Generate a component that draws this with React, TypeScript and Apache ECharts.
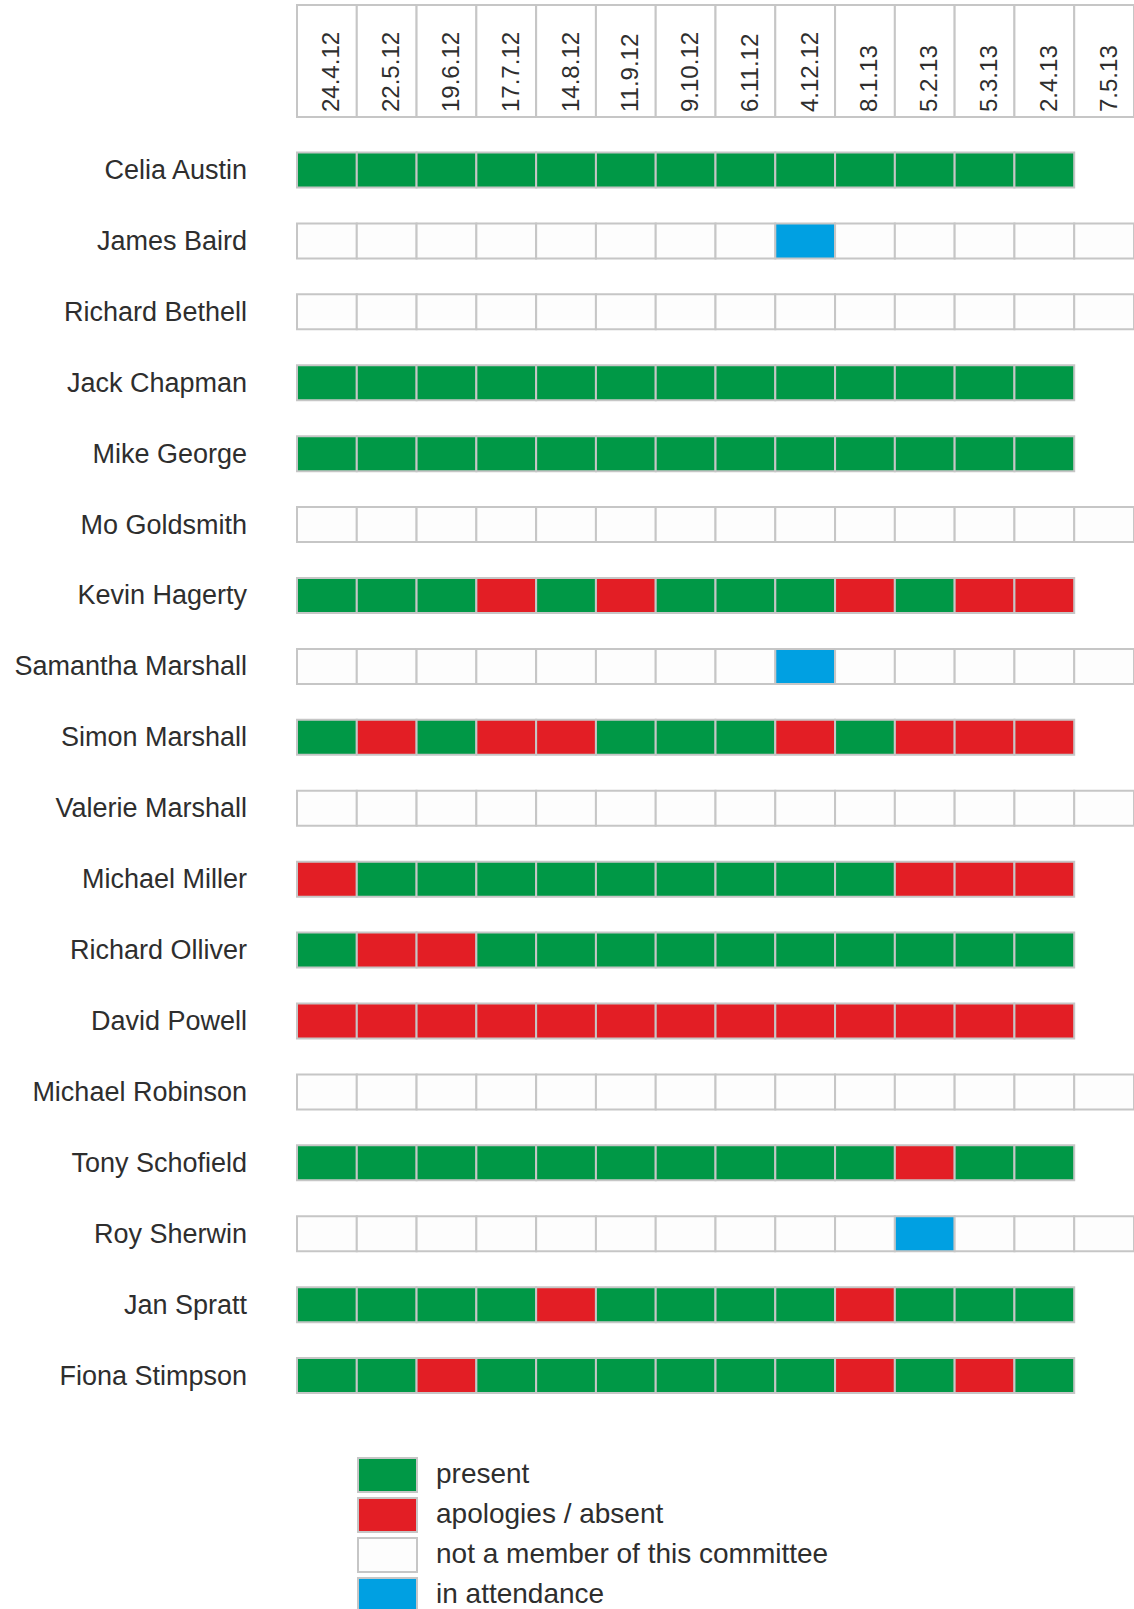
import React, { useEffect, useRef } from "react";
import * as echarts from "echarts";

const dates = ["24.4.12", "22.5.12", "19.6.12", "17.7.12", "14.8.12", "11.9.12", "9.10.12", "6.11.12", "4.12.12", "8.1.13", "5.2.13", "5.3.13", "2.4.13", "7.5.13"];

const names = [
  "Celia Austin", "James Baird", "Richard Bethell", "Jack Chapman", "Mike George", "Mo Goldsmith",
  "Kevin Hagerty", "Samantha Marshall", "Simon Marshall", "Valerie Marshall", "Michael Miller",
  "Richard Olliver", "David Powell", "Michael Robinson", "Tony Schofield", "Roy Sherwin",
  "Jan Spratt", "Fiona Stimpson",
];

// P = present, A = apologies / absent, N = not a member, I = in attendance
const attendance = [
  "PPPPPPPPPPPPP",
  "NNNNNNNNINNNNN",
  "NNNNNNNNNNNNNN",
  "PPPPPPPPPPPPP",
  "PPPPPPPPPPPPP",
  "NNNNNNNNNNNNNN",
  "PPPAPAPPPAPAA",
  "NNNNNNNNINNNNN",
  "PAPAAPPPAPAAA",
  "NNNNNNNNNNNNNN",
  "APPPPPPPPPAAA",
  "PAAPPPPPPPPPP",
  "AAAAAAAAAAAAA",
  "NNNNNNNNNNNNNN",
  "PPPPPPPPPPAPP",
  "NNNNNNNNNNINNN",
  "PPPPAPPPPAPPP",
  "PPAPPPPPPAPAP",
];

const statusCodes = ["P", "A", "N", "I"];
const statusLabels = ["present", "apologies / absent", "not a member of this committee", "in attendance"];
const statusColors = ["#009846", "#e31e25", "#fdfdfd", "#00a0e2"];

const FONT = "'Liberation Sans', Arial, Helvetica, sans-serif";
const BORDER = "#c6c6c6";
const TEXT = "#2e2e2e";

export default function App() {
  const ref = useRef<HTMLDivElement>(null);

  useEffect(() => {
    if (!ref.current) return;
    const chart = echarts.init(ref.current, null, { renderer: "svg" });

    const cells: number[][] = [];
    attendance.forEach((row, r) => {
      row.split("").forEach((ch, c) => {
        cells.push([c, r, statusCodes.indexOf(ch)]);
      });
    });

    const legendGraphics: any[] = [];
    statusLabels.forEach((label, i) => {
      legendGraphics.push({
        type: "rect",
        left: 357,
        top: 1457 + 40 * i,
        shape: { x: 0, y: 0, width: 59, height: 34 },
        style: { fill: statusColors[i], stroke: BORDER, lineWidth: 2 },
      });
      legendGraphics.push({
        type: "text",
        x: 436,
        y: 1473.5 + 40 * i,
        style: { text: label, fill: TEXT, fontSize: 28, fontFamily: FONT, textAlign: "left", textVerticalAlign: "middle" },
      });
    });

    const option: any = {
      animation: false,
      grid: [
        { left: 297, top: 5, width: 840, height: 112, show: false },
        { left: 297, top: 134.5, width: 840, height: 1276.5, show: false },
      ],
      xAxis: [
        { type: "category", data: dates, gridIndex: 0, show: false },
        { type: "category", data: dates, gridIndex: 1, show: false },
      ],
      yAxis: [
        { type: "value", gridIndex: 0, min: 0, max: 1, show: false },
        {
          type: "category",
          gridIndex: 1,
          data: names,
          inverse: true,
          axisLine: { show: false },
          axisTick: { show: false },
          splitLine: { show: false },
          axisLabel: { fontSize: 27, color: TEXT, margin: 50, fontFamily: FONT },
        },
      ],
      series: [
        {
          type: "custom",
          xAxisIndex: 0,
          yAxisIndex: 0,
          data: dates.map((_, i) => [i, 0.5]),
          renderItem: (params: any, api: any) => {
            const c = api.value(0);
            const pt = api.coord([c, 0.5]);
            const cs = params.coordSys;
            const w = api.size([1, 0])[0];
            return {
              type: "group",
              children: [
                {
                  type: "rect",
                  shape: { x: pt[0] - w / 2, y: cs.y, width: w, height: cs.height },
                  style: { fill: "#ffffff", stroke: BORDER, lineWidth: 2 },
                },
                {
                  type: "text",
                  x: pt[0] + 4,
                  y: cs.y + cs.height - 5,
                  rotation: Math.PI / 2,
                  style: {
                    text: dates[c],
                    fill: TEXT,
                    fontSize: 24,
                    fontFamily: FONT,
                    align: "left",
                    verticalAlign: "middle",
                  },
                },
              ],
            };
          },
        },
        {
          type: "custom",
          xAxisIndex: 1,
          yAxisIndex: 1,
          data: cells,
          renderItem: (params: any, api: any) => {
            const c = api.value(0);
            const r = api.value(1);
            const s = api.value(2);
            const pt = api.coord([c, r]);
            const w = api.size([1, 0])[0];
            const h = 35;
            return {
              type: "rect",
              shape: { x: pt[0] - w / 2, y: pt[1] - h / 2, width: w, height: h },
              style: { fill: statusColors[s], stroke: BORDER, lineWidth: 2 },
            };
          },
        },
      ],
      graphic: legendGraphics,
    };

    chart.setOption(option);
    return () => chart.dispose();
  }, []);

  return (
    <div
      ref={ref}
      style={{ position: "absolute", left: 0, top: 0, width: 1134, height: 1609, background: "#ffffff" }}
    />
  );
}
